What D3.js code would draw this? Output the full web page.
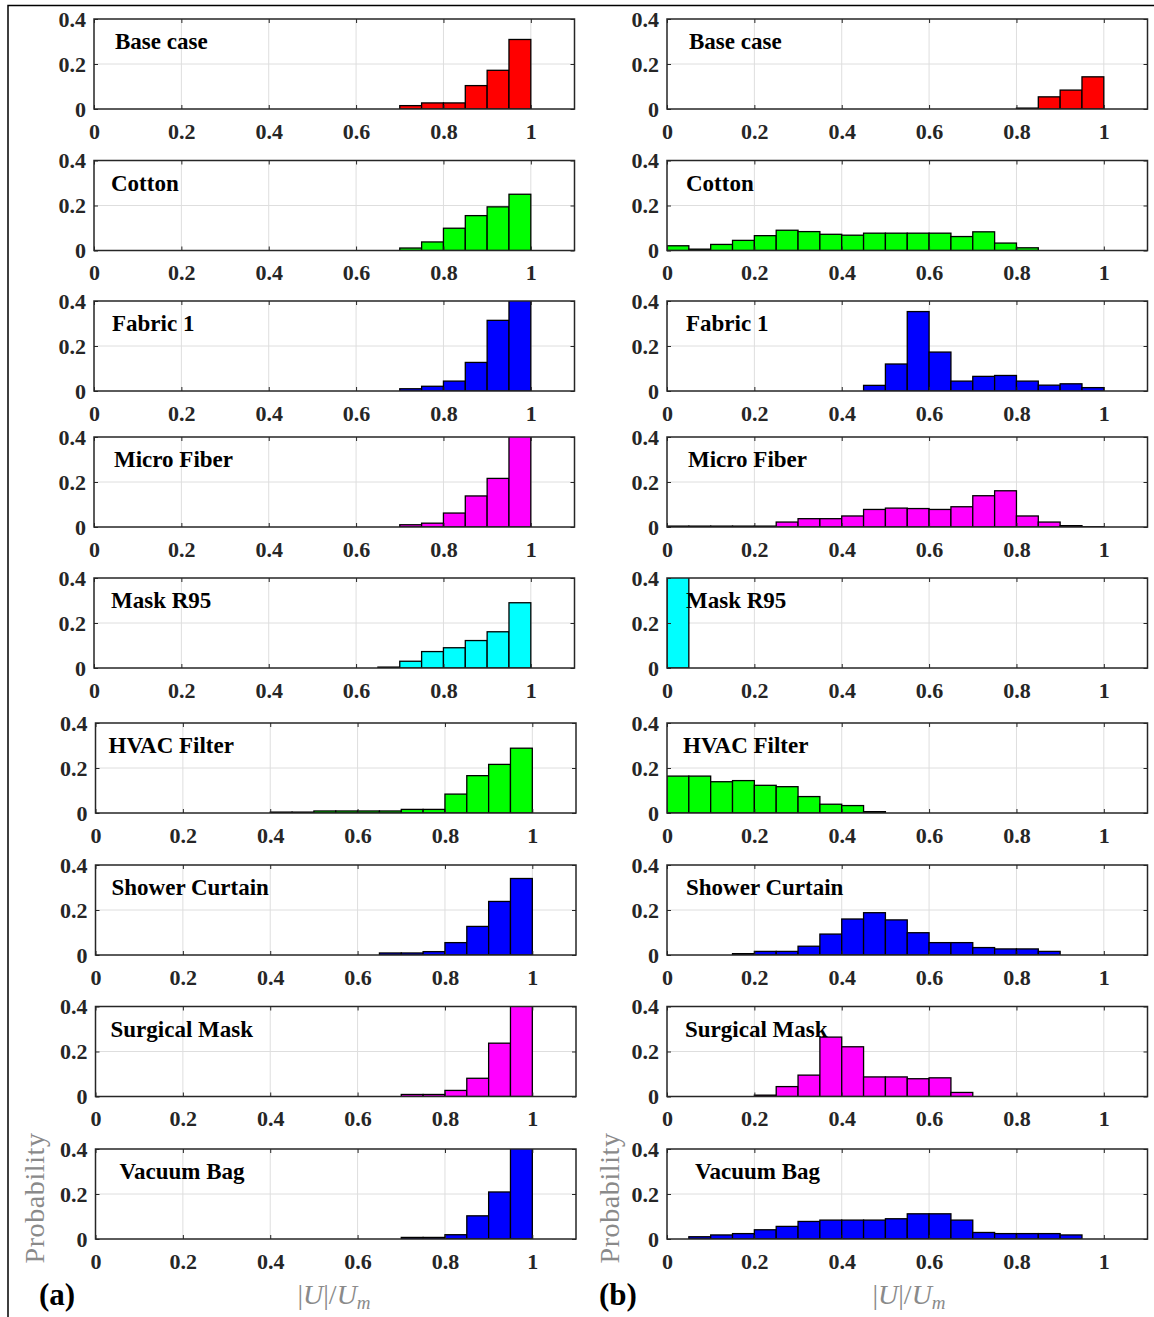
<!DOCTYPE html>
<html>
<head>
<meta charset="utf-8">
<script src="https://cdn.jsdelivr.net/npm/d3@7"></script>
<style>
  body { margin: 0; background: #fff; }
  svg { display: block; }
</style>
</head>
<body>
<svg id="chart" width="1154" height="1317"></svg>
<script>
// Panel names, top to bottom
var materials = ['Base case', 'Cotton', 'Fabric 1', 'Micro Fiber', 'Mask R95',
                 'HVAC Filter', 'Shower Curtain', 'Surgical Mask', 'Vacuum Bag'];

// Left edge of each histogram bin (bin width 0.05)
var binLeft = [0, 0.05, 0.1, 0.15, 0.2, 0.25, 0.3, 0.35, 0.4, 0.45,
               0.5, 0.55, 0.6, 0.65, 0.7, 0.75, 0.8, 0.85, 0.9, 0.95];
var binWidth = 0.05;

var xTicks = [0, 0.2, 0.4, 0.6, 0.8, 1];
var yTicks = [0, 0.2, 0.4];

// (a) column, probability per bin
var baseCaseA  = [0,0,0,0,0,0,0,0,0,0,0,0,0,0,0.015,0.027,0.027,0.104,0.172,0.309];
var cottonA    = [0,0,0,0,0,0,0,0,0,0,0,0,0,0,0.011,0.038,0.099,0.155,0.194,0.250];
var fabric1A   = [0,0,0,0,0,0,0,0,0,0,0,0,0,0,0.010,0.021,0.044,0.127,0.314,0.480];
var microA     = [0,0,0,0,0,0,0,0,0,0,0,0,0,0,0.010,0.017,0.062,0.138,0.216,0.550];
var maskR95A   = [0,0,0,0,0,0,0,0,0,0,0,0,0,0.004,0.030,0.073,0.090,0.122,0.161,0.290];
var hvacA      = [0,0,0,0,0,0,0,0,0.004,0.004,0.009,0.009,0.009,0.009,0.016,0.016,0.084,0.166,0.216,0.288];
var showerA    = [0,0,0,0,0,0,0,0,0,0,0,0,0,0.009,0.009,0.015,0.055,0.127,0.238,0.340];
var surgicalA  = [0,0,0,0,0,0,0,0,0,0,0,0,0,0,0.009,0.009,0.027,0.081,0.237,0.630];
var vacuumA    = [0,0,0,0,0,0,0,0,0,0,0,0,0,0,0.007,0.007,0.019,0.103,0.209,0.650];

// (b) column, probability per bin
var baseCaseB  = [0,0,0,0,0,0,0,0,0,0,0,0,0,0,0,0,0.004,0.054,0.084,0.143];
var cottonB    = [0.021,0.006,0.027,0.045,0.066,0.090,0.084,0.072,0.068,0.077,
                  0.077,0.077,0.077,0.062,0.083,0.033,0.012,0,0,0];
var fabric1B   = [0,0,0,0,0,0,0,0,0,0.025,0.120,0.353,0.173,0.044,0.065,0.069,0.044,0.026,0.032,0.015];
var microB     = [0.004,0.004,0.004,0.004,0.004,0.022,0.037,0.037,0.049,0.078,
                  0.084,0.082,0.078,0.090,0.139,0.161,0.049,0.022,0.006,0.001];
var maskR95B   = [1.0,0,0,0,0,0,0,0,0,0,0,0,0,0,0,0,0,0,0,0];
var hvacB      = [0.164,0.164,0.139,0.144,0.123,0.117,0.073,0.039,0.033,0.006,
                  0,0,0,0,0,0,0,0,0,0];
var showerB    = [0,0,0,0.006,0.016,0.016,0.039,0.093,0.160,0.188,
                  0.156,0.099,0.055,0.055,0.033,0.027,0.027,0.016,0,0];
var surgicalB  = [0,0,0,0,0.006,0.044,0.095,0.264,0.221,0.087,
                  0.087,0.079,0.083,0.018,0,0,0,0,0,0];
var vacuumB    = [0,0.010,0.018,0.024,0.041,0.056,0.078,0.084,0.084,0.084,
                  0.090,0.112,0.112,0.084,0.029,0.024,0.024,0.024,0.018,0];

var seriesA = [baseCaseA, cottonA, fabric1A, microA, maskR95A, hvacA, showerA, surgicalA, vacuumA];
var seriesB = [baseCaseB, cottonB, fabric1B, microB, maskR95B, hvacB, showerB, surgicalB, vacuumB];

// Styles and layout
var barColors = ['#ff0000', '#00ff00', '#0000ff', '#ff00ff', '#00ffff',
                 '#00ff00', '#0000ff', '#ff00ff', '#0000ff'];
var panelTop = [19, 160.5, 301, 437, 578, 723, 865, 1006.5, 1149];
var colLeft = [94, 667];
var titleDx = [[21, 17, 18, 20, 17, 13, 16, 15, 24],
               [22, 19, 19, 21, 19, 16, 19, 18, 28]];
var PW = 480.5, PH = 90;
var FONT = '"Liberation Serif", "Times New Roman", serif';
var AXIS_COLOR = '#262626';

var svg = d3.select('#chart');
svg.append('rect').attr('width', 1154).attr('height', 1317).attr('fill', '#fff');

// outer frame (top and left edges visible)
svg.append('path')
    .attr('d', 'M8,1317 V5.5 H1154')
    .attr('fill', 'none')
    .attr('stroke', '#000')
    .attr('stroke-width', 1.5);

var fmt = d3.format('~g');

function drawPanel(col, row) {
    var values = (col === 0 ? seriesA : seriesB)[row];
    var x0 = colLeft[col] + (col === 0 && row >= 5 ? 1.5 : 0);
    var top = panelTop[row];
    var x = d3.scaleLinear().domain([0, 1.1]).range([x0, x0 + PW]);
    var y = d3.scaleLinear().domain([0, 0.4]).range([top + PH, top]);
    var g = svg.append('g');
    var clipId = 'clip-' + col + '-' + row;

    g.append('clipPath').attr('id', clipId)
        .append('rect')
        .attr('x', x0).attr('y', top)
        .attr('width', PW).attr('height', PH);

    // grid
    g.selectAll('line.vgrid')
        .data(xTicks.slice(1))
        .enter().append('line')
        .attr('class', 'vgrid')
        .attr('x1', function(d) { return x(d); })
        .attr('x2', function(d) { return x(d); })
        .attr('y1', top).attr('y2', top + PH)
        .attr('stroke', '#dedede').attr('stroke-width', 1);
    g.selectAll('line.hgrid')
        .data(yTicks.slice(1, -1))
        .enter().append('line')
        .attr('class', 'hgrid')
        .attr('x1', x0).attr('x2', x0 + PW)
        .attr('y1', function(d) { return y(d); })
        .attr('y2', function(d) { return y(d); })
        .attr('stroke', '#dedede').attr('stroke-width', 1);

    // bars
    var bins = values.map(function(v, i) { return { x: binLeft[i], v: v }; })
        .filter(function(d) { return d.v > 0; });
    g.append('g')
        .attr('clip-path', 'url(#' + clipId + ')')
        .selectAll('rect')
        .data(bins)
        .enter().append('rect')
        .attr('x', function(d) { return x(d.x); })
        .attr('width', function(d) { return x(d.x + binWidth) - x(d.x); })
        .attr('y', function(d) { return y(d.v); })
        .attr('height', function(d) { return y(0) - y(d.v); })
        .attr('fill', barColors[row])
        .attr('stroke', '#000')
        .attr('stroke-width', 1.3);

    // axes (inner ticks, labels on bottom and left)
    var axB = g.append('g')
        .attr('transform', 'translate(0,' + (top + PH) + ')')
        .call(d3.axisBottom(x).tickValues(xTicks).tickSize(-4).tickPadding(14).tickFormat(fmt));
    var axT = g.append('g')
        .attr('transform', 'translate(0,' + top + ')')
        .call(d3.axisTop(x).tickValues(xTicks).tickSize(-4).tickFormat(''));
    var axL = g.append('g')
        .attr('transform', 'translate(' + x0 + ',0)')
        .call(d3.axisLeft(y).tickValues(yTicks).tickSize(-4).tickPadding(8).tickFormat(fmt));
    var axR = g.append('g')
        .attr('transform', 'translate(' + (x0 + PW) + ',0)')
        .call(d3.axisRight(y).tickValues(yTicks).tickSize(-4).tickFormat(''));

    [axB, axT, axL, axR].forEach(function(ax) {
        ax.select('.domain').remove();
        ax.selectAll('.tick line').attr('stroke', AXIS_COLOR).attr('stroke-width', 1);
        ax.selectAll('.tick text')
            .attr('fill', AXIS_COLOR)
            .style('font-family', FONT)
            .style('font-weight', 'bold')
            .style('font-size', '22px');
    });

    // box
    g.append('rect')
        .attr('x', x0).attr('y', top)
        .attr('width', PW).attr('height', PH)
        .attr('fill', 'none')
        .attr('stroke', AXIS_COLOR)
        .attr('stroke-width', 1.5);

    // panel title
    g.append('text')
        .attr('x', x0 + titleDx[col][row])
        .attr('y', top + 30)
        .style('font-family', FONT)
        .style('font-weight', 'bold')
        .style('font-size', '23px')
        .attr('fill', '#000')
        .text(materials[row]);
}

for (var c = 0; c < 2; c++) {
    for (var r = 0; r < materials.length; r++) {
        drawPanel(c, r);
    }
}

// axis labels and panel letters
var ylabelX = [35, 610];
var xlabelX = [334, 909];
var letterX = [57, 618];
var letters = ['(a)', '(b)'];

for (var k = 0; k < 2; k++) {
    svg.append('text')
        .attr('transform', 'translate(' + (ylabelX[k] + 9) + ',1198) rotate(-90)')
        .attr('text-anchor', 'middle')
        .style('font-family', FONT)
        .style('font-size', '28px')
        .style('letter-spacing', '0.6px')
        .attr('fill', '#8a8a8a')
        .text('Probability');

    var xl = svg.append('text')
        .attr('x', xlabelX[k])
        .attr('y', 1304)
        .attr('text-anchor', 'middle')
        .style('font-family', FONT)
        .style('font-size', '28px')
        .style('font-style', 'italic')
        .attr('fill', '#8a8a8a');
    xl.append('tspan').style('font-style', 'normal').text('|');
    xl.append('tspan').text('U');
    xl.append('tspan').style('font-style', 'normal').text('|/');
    xl.append('tspan').text('U');
    xl.append('tspan').attr('dy', 5).style('font-size', '19px').text('m');

    svg.append('text')
        .attr('x', letterX[k])
        .attr('y', 1305)
        .attr('text-anchor', 'middle')
        .style('font-family', FONT)
        .style('font-weight', 'bold')
        .style('font-size', '31px')
        .attr('fill', '#000')
        .text(letters[k]);
}
</script>
</body>
</html>
